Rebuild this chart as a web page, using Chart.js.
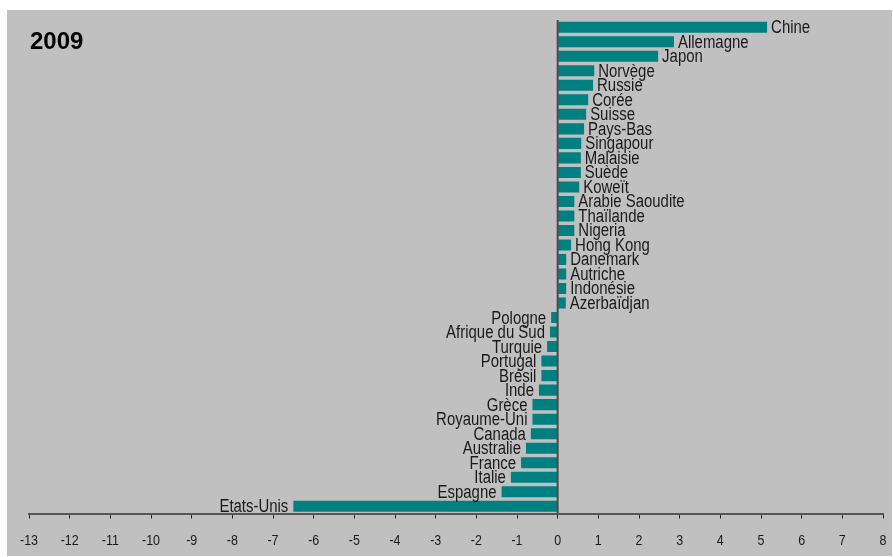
<!DOCTYPE html>
<html>
<head>
<meta charset="utf-8">
<script src="https://cdn.jsdelivr.net/npm/chart.js@4/dist/chart.umd.min.js"></script>
<style>
  html, body { margin: 0; padding: 0; background: #ffffff; }
  #wrap { position: relative; width: 893px; height: 557px; }
</style>
</head>
<body>
<div id="wrap"><canvas id="c" width="893" height="557"></canvas></div>
<script>
const title = "2009";
const countries = [
  "Chine", "Allemagne", "Japon", "Norvège", "Russie", "Corée", "Suisse", "Pays-Bas",
  "Singapour", "Malaisie", "Suède", "Koweït", "Arabie Saoudite", "Thaïlande", "Nigeria",
  "Hong Kong", "Danemark", "Autriche", "Indonésie", "Azerbaïdjan",
  "Pologne", "Afrique du Sud", "Turquie", "Portugal", "Brésil", "Inde", "Grèce",
  "Royaume-Uni", "Canada", "Australie", "France", "Italie", "Espagne", "Etats-Unis"
];
const values = [
  5.15, 2.86, 2.47, 0.90, 0.87, 0.75, 0.70, 0.65,
  0.58, 0.57, 0.57, 0.53, 0.41, 0.41, 0.41,
  0.33, 0.21, 0.21, 0.21, 0.20,
  -0.16, -0.19, -0.26, -0.40, -0.40, -0.46, -0.62,
  -0.62, -0.66, -0.78, -0.90, -1.15, -1.38, -6.50
];
const xMin = -13;
const xMax = 8;

const sans = '"Liberation Sans", Arial, sans-serif';
const NARROW = 0.83;

function narrowText(ctx, text, x, y, align) {
  ctx.save();
  ctx.translate(x, y);
  ctx.scale(NARROW, 1);
  ctx.textAlign = align;
  ctx.fillText(text, 0, 0);
  ctx.restore();
}

const bgPlugin = {
  id: 'bg',
  beforeDraw(chart) {
    const ctx = chart.ctx;
    ctx.save();
    ctx.fillStyle = '#ffffff';
    ctx.fillRect(0, 0, chart.width, chart.height);
    ctx.fillStyle = '#c0c0c0';
    ctx.fillRect(7, 10, chart.width - 8, chart.height - 11);
    ctx.restore();
  }
};

const overlayPlugin = {
  id: 'overlay',
  afterDraw(chart) {
    const ctx = chart.ctx;
    const xs = chart.scales.x;
    const area = chart.chartArea;
    ctx.save();
    // zero line
    const x0 = xs.getPixelForValue(0);
    ctx.strokeStyle = '#4a4a4a';
    ctx.lineWidth = 2;
    ctx.beginPath();
    ctx.moveTo(x0, area.top);
    ctx.lineTo(x0, area.bottom);
    ctx.stroke();
    // bar labels
    const meta = chart.getDatasetMeta(0);
    ctx.font = '18px ' + sans;
    ctx.fillStyle = '#1a1a1a';
    ctx.textBaseline = 'middle';
    meta.data.forEach((bar, i) => {
      if (values[i] >= 0) {
        narrowText(ctx, countries[i], bar.x + 4, bar.y + 1, 'left');
      } else {
        narrowText(ctx, countries[i], bar.x - 5, bar.y + 1, 'right');
      }
    });
    // x tick labels
    ctx.font = '15px ' + sans;
    ctx.fillStyle = '#1a1a1a';
    ctx.textBaseline = 'middle';
    xs.ticks.forEach(t => {
      narrowText(ctx, String(t.value), xs.getPixelForValue(t.value), 541, 'center');
    });
    // title
    ctx.font = 'bold 24px ' + sans;
    ctx.fillStyle = '#000000';
    ctx.textAlign = 'left';
    ctx.textBaseline = 'alphabetic';
    ctx.fillText(title, 30, 49);
    ctx.restore();
  }
};

new Chart(document.getElementById('c'), {
  type: 'bar',
  data: {
    labels: countries,
    datasets: [{
      data: values,
      backgroundColor: '#008080',
      borderWidth: 0,
      categoryPercentage: 1.0,
      barPercentage: 0.76
    }]
  },
  options: {
    indexAxis: 'y',
    responsive: false,
    animation: false,
    devicePixelRatio: 1,
    layout: { padding: { left: 29, right: 10, top: 20, bottom: 0 } },
    plugins: { legend: { display: false }, tooltip: { enabled: false }, title: { display: false } },
    scales: {
      x: {
        type: 'linear',
        min: xMin,
        max: xMax,
        afterFit(scale) { scale.height = 43.5; },
        ticks: {
          display: false,
          stepSize: 1,
          autoSkip: false
        },
        grid: {
          display: true,
          drawOnChartArea: false,
          drawTicks: true,
          tickLength: 5,
          color: '#222222',
          lineWidth: 1
        },
        border: { display: true, color: '#555555', width: 2 }
      },
      y: {
        display: false
      }
    }
  },
  plugins: [bgPlugin, overlayPlugin]
});
</script>
</body>
</html>
